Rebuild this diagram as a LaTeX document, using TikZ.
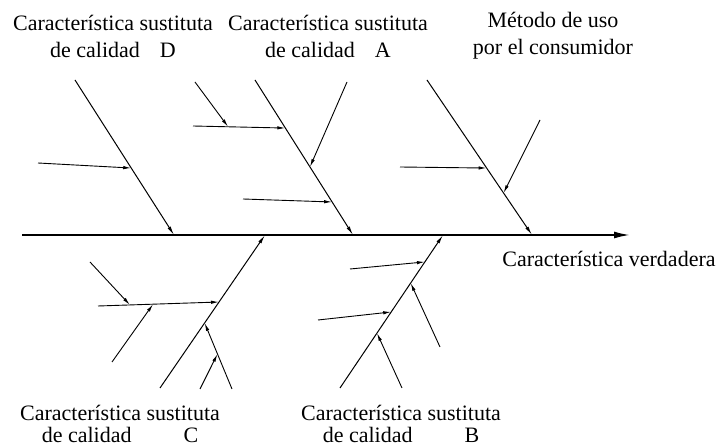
\documentclass[tikz,border=0pt]{standalone}
\usepackage{fontspec}
\setmainfont{Liberation Serif}
\usetikzlibrary{arrows.meta,calc}

\tikzset{
  bone/.style={line width=1pt, -{Latex[length=9pt,width=3.6pt]}},
  twig/.style={line width=0.9pt, -{Latex[length=8pt,width=3.4pt]}},
  cause/.style={align=center, inner sep=0pt, font=\fontsize{22}{27}\selectfont},
  lowcause/.style={cause, font=\fontsize{22}{22}\selectfont},
}

\begin{document}
\begin{tikzpicture}[x=1pt, y=-1pt]
\useasboundingbox (0,0) rectangle (724,446);

% spine
\coordinate (tail) at (22,235);
\coordinate (head) at (630,235);
\draw[line width=1.8pt, -{Latex[length=16pt,width=7pt]}] (tail) -- (head);

% main bones
\coordinate (dTop) at (75,80);   \coordinate (dEnd) at (174,235);
\coordinate (aTop) at (255,80);  \coordinate (aEnd) at (353,235);
\coordinate (mTop) at (427,80);  \coordinate (mEnd) at (532,235);
\coordinate (cBot) at (160,388); \coordinate (cEnd) at (265,235);
\coordinate (bBot) at (340,388); \coordinate (bEnd) at (443,235);
\foreach \s/\e in {dTop/dEnd, aTop/aEnd, mTop/mEnd, cBot/cEnd, bBot/bEnd}
  \draw[bone] (\s) -- (\e);

% points where the twigs meet the bones
\coordinate (d1) at ($(dTop)!0.568!(dEnd)$);
\coordinate (a1) at ($(aTop)!0.31!(aEnd)$);
\coordinate (a2) at ($(aTop)!0.561!(aEnd)$);
\coordinate (a3) at ($(aTop)!0.787!(aEnd)$);
\coordinate (m1) at ($(mTop)!0.568!(mEnd)$);
\coordinate (m2) at ($(mTop)!0.729!(mEnd)$);
\coordinate (c1) at ($(cBot)!0.562!(cEnd)$);
\coordinate (c2) at ($(cBot)!0.425!(cEnd)$);
\coordinate (b1) at ($(bBot)!0.824!(bEnd)$);
\coordinate (b2) at ($(bBot)!0.497!(bEnd)$);
\coordinate (b3) at ($(bBot)!0.686!(bEnd)$);
\coordinate (b4) at ($(bBot)!0.359!(bEnd)$);

% free ends of the twigs
\coordinate (d1s) at (38,163);
\coordinate (a1s) at (193,126);
\coordinate (a2s) at (347,82);
\coordinate (a3s) at (243,199);
\coordinate (m1s) at (400,167);
\coordinate (m2s) at (540,120);
\coordinate (c1s) at (98,306);
\coordinate (c2s) at (232,389);
\coordinate (b1s) at (350,269);
\coordinate (b2s) at (318,320);
\coordinate (b3s) at (440,347);
\coordinate (b4s) at (402,388);
\foreach \p in {d1, a1, a2, a3, m1, m2, c1, c2, b1, b2, b3, b4}
  \draw[twig] (\p s) -- (\p);

% twigs on twigs
\coordinate (a1x) at ($(a1s)!0.38!(a1)$);
\coordinate (c1x) at ($(c1s)!0.264!(c1)$);
\coordinate (c1y) at ($(c1s)!0.455!(c1)$);
\coordinate (c2x) at ($(c2s)!0.53!(c2)$);
\coordinate (a1xs) at (195,82);
\coordinate (c1xs) at (90,262);
\coordinate (c1ys) at (112,362);
\coordinate (c2xs) at (200,389);
\foreach \p in {a1x, c1x, c1y, c2x}
  \draw[twig] (\p s) -- (\p);

% texts
\node[cause] (labD) at (113,36) {Característica sustituta\\de calidad\hspace{20pt}D};
\node[cause] (labA) at (328,36) {Característica sustituta\\de calidad\hspace{20pt}A};
\node[cause] (labM) at (553,36) {Método de uso\\por el consumidor};
\node[cause] (labV) at (609,259) {Característica verdadera};
\node[lowcause] (labC) at (120,424) {Característica sustituta\\de calidad\hspace{52pt}C};
\node[lowcause] (labB) at (401,424) {Característica sustituta\\de calidad\hspace{52pt}B};
\end{tikzpicture}
\end{document}
